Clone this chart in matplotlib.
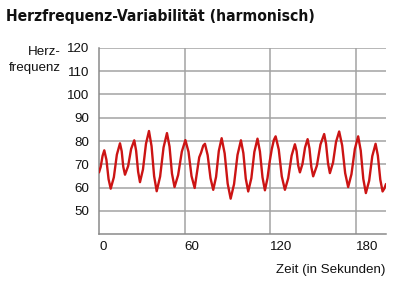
import matplotlib
matplotlib.use("Agg")
import matplotlib.pyplot as plt
from matplotlib import font_manager as fm

# Data (time in seconds, heart rate)
time_s = [0, 1.2, 2.5, 3.7, 5.2, 6.7, 8.2, 10.4, 12.5, 14.7, 15.9, 17.0, 18.2,
          20.4, 22.5, 24.7, 26.0, 27.4, 28.7, 30.8, 32.9, 35.0, 36.8, 38.6, 40.4,
          42.8, 45.2, 47.6, 49.4, 51.1, 52.9, 55.4, 58.0, 60.5, 62.7, 64.8, 67.0,
          68.5, 70.2, 71.5, 73.0, 74.2, 76.1, 78.1, 80.0, 82.0, 83.9, 85.9, 88.0,
          90.1, 92.2, 94.6, 97.0, 99.4, 101.1, 102.8, 104.5, 106.7, 108.8, 111.0,
          112.7, 114.5, 116.2, 118.0, 119.5, 121.0, 122.5, 123.7, 125.9, 128.0,
          130.2, 132.5, 134.9, 137.2, 138.4, 139.5, 140.7, 142.5, 144.3, 146.1,
          147.4, 148.7, 150.0, 152.6, 155.1, 157.7, 159.0, 160.4, 161.7, 163.9,
          166.0, 168.2, 170.3, 172.4, 174.5, 176.8, 179.2, 181.5, 183.3, 185.1,
          186.9, 189.2, 191.4, 193.7, 195.3, 197.0, 198.6, 199.8, 201.0]
heart_rate = [66.5, 68.9, 73.6, 76.0, 71.9, 63.6, 59.5, 64.4, 74.1, 79.0, 75.6, 68.9, 65.5,
              69.2, 76.6, 80.3, 75.8, 66.8, 62.3, 67.8, 78.8, 84.3, 77.8, 64.9, 58.4,
              64.7, 77.2, 83.4, 77.6, 66.0, 60.2, 65.3, 75.4, 80.4, 75.3, 64.9, 59.8,
              66.0, 73.0, 75.0, 78.0, 78.8, 73.9, 64.0, 59.0, 64.6, 75.7, 81.2, 74.7,
              61.7, 55.2, 61.5, 74.0, 80.3, 74.8, 63.8, 58.3, 64.0, 75.3, 81.0,
              75.5, 64.4, 58.8, 64.0, 71.0, 76.5, 80.5, 82.0, 76.3, 64.8,
              59.0, 63.9, 73.7, 78.6, 75.6, 69.5, 66.5, 70.1, 77.2, 80.8,
              76.8, 68.8, 64.8, 69.4, 78.5, 83.0, 78.8, 70.4, 66.2, 70.7,
              79.6, 84.1, 78.1, 66.2, 60.2, 65.7, 76.6, 82.0, 75.9, 63.7,
              57.6, 62.9, 73.5, 78.8, 73.7, 63.4, 58.3, 59.5, 61.5]

x_ticks = [0, 60, 120, 180]
y_ticks = [50, 60, 70, 80, 90, 100, 110, 120]

title = "Herzfrequenz-Variabilität (harmonisch)"
ylabel = "Herz-\nfrequenz"
xlabel = "Zeit (in Sekunden)"

W, H = 400, 282
fig = plt.figure(figsize=(W / 100, H / 100), dpi=100)
ax = fig.add_axes([99 / W, 1 - 234 / H, (386 - 99) / W, (234 - 48) / H])

grid_c = "#a3a3a3"
for yv in y_ticks:
    ax.axhline(yv, color=grid_c, lw=1.1, zorder=1)
for xv in x_ticks[1:]:
    ax.axvline(xv, color=grid_c, lw=1.1, zorder=1)

ax.plot(time_s, heart_rate, color="#cc1414", lw=1.7, zorder=3,
        solid_joinstyle="round", solid_capstyle="round")

ax.set_xlim(0, 201)
ax.set_ylim(40, 120)
for s in ["top", "right"]:
    ax.spines[s].set_visible(False)
for s in ["left", "bottom"]:
    ax.spines[s].set_color("#8a8a8a")
    ax.spines[s].set_linewidth(1.1)

font = "Liberation Sans"
ax.set_yticks(y_ticks)
ax.set_yticklabels([str(v) for v in y_ticks], fontsize=9.6, family=font, color="#111111")
ax.set_xticks(x_ticks)
ax.set_xticklabels([str(v) for v in x_ticks], fontsize=9.6, family=font, color="#111111",
                   ha="left")
ax.tick_params(axis="both", length=0)
ax.tick_params(axis="y", pad=7)
ax.tick_params(axis="x", pad=5)

fig.text(61 / W, 1 - 60 / H, ylabel, ha="right", va="center", fontsize=9.6,
         family=font, color="#111111", linespacing=1.45)
fig.text(386 / W, 1 - 270 / H, xlabel, ha="right", va="center", fontsize=9.6,
         family=font, color="#111111")

# Title: prefer a condensed bold face if one is installed
names = {f.name for f in fm.fontManager.ttflist}
cond = [f for f in fm.fontManager.ttflist
        if f.name == "DejaVu Sans" and f.stretch == "condensed" and f.weight in ("bold", 700)]
t = fig.text(6 / W, 1 - 16 / H, title, ha="left", va="center", fontsize=13.2,
             family="DejaVu Sans", stretch="condensed", weight="bold", color="#111111")
# fit the title to the reference width (about 310 px)
fig.canvas.draw()
bb = t.get_window_extent()
t.set_fontsize(13.2 * 310 / bb.width)

fig.savefig("out.png", dpi=100, facecolor="white")
